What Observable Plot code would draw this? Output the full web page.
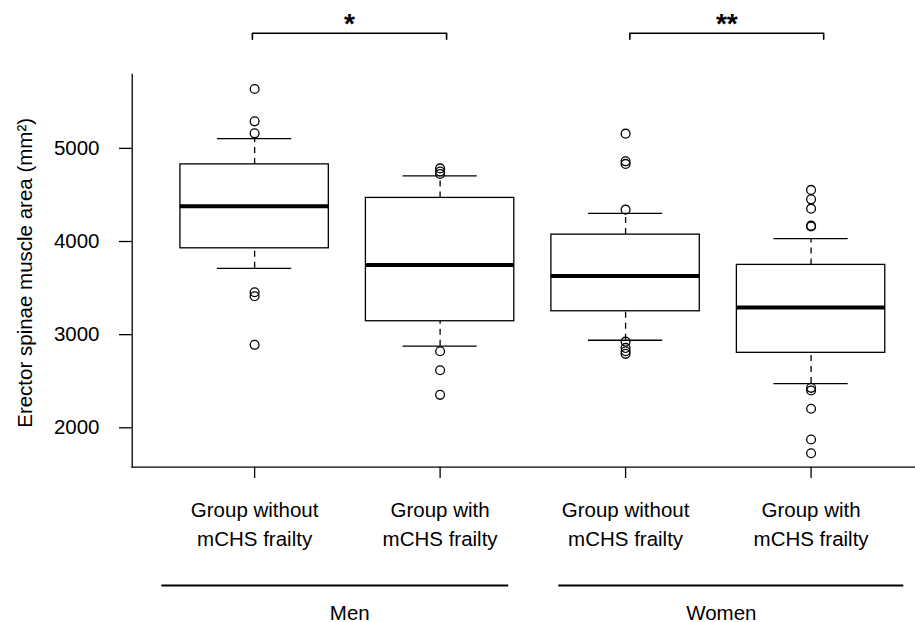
<!DOCTYPE html>
<html><head><meta charset="utf-8">
<script src="https://cdn.jsdelivr.net/npm/d3@7"></script>
<script src="https://cdn.jsdelivr.net/npm/@observablehq/plot@0.6"></script>
<style>body{margin:0;background:#fff}</style>
</head><body><div id="chart"></div>
<script>
// ---- data ----
const positions = [1, 2, 3, 4];
const categories = ["Group without\nmCHS frailty", "Group with\nmCHS frailty", "Group without\nmCHS frailty", "Group with\nmCHS frailty"];
const sexes = ["Men", "Women"];
const sexCenters = [1.513, 3.516];
const sexSpanStart = [0.5, 2.64];
const sexSpanEnd = [2.37, 4.5];
const whiskerLow = [3712, 2876, 2940, 2475];
const q1 = [3927, 3144, 3251, 2805];
const median = [4378, 3748, 3630, 3291];
const q3 = [4828, 4468, 4074, 3749];
const whiskerHigh = [5104, 4705, 4303, 4031];
const outliers = [
  [5637, 5290, 5161, 3455, 3412, 2891],
  [4785, 4752, 4725, 2822, 2618, 2354],
  [5158, 4861, 4833, 4342, 2925, 2858, 2822, 2794],
  [4554, 4453, 4353, 4170, 4162, 2429, 2400, 2204, 1874, 1727]
];
const compStart = [0.988, 3.023];
const compEnd = [2.035, 4.068];
const compLabels = ["*", "**"];
const bracketLevel = 6236;
const bracketDrop = 6171;
const yTicks = [2000, 3000, 4000, 5000];
const yLabel = "Erector spinae muscle area (mm²)";

// ---- tables built from the arrays ----
const boxes = positions.map((p, i) => ({
  p, lo: whiskerLow[i], q1: q1[i], med: median[i], q3: q3[i], hi: whiskerHigh[i], label: categories[i]
}));
const points = outliers.flatMap((vals, i) => vals.map(v => ({p: positions[i], v})));
const sexRows = sexes.map((s, i) => ({s, c: sexCenters[i], a: sexSpanStart[i], b: sexSpanEnd[i]}));
const brackets = compLabels.flatMap((lab, i) => [
  {k: i, x: compStart[i], y: bracketDrop},
  {k: i, x: compStart[i], y: bracketLevel},
  {k: i, x: compEnd[i], y: bracketLevel},
  {k: i, x: compEnd[i], y: bracketDrop}
]);
const compRows = compLabels.map((lab, i) => ({lab, c: (compStart[i] + compEnd[i]) / 2}));

const boxHalf = 0.4, stapleHalf = 0.2;
const sw = 1.3;

const chart = Plot.plot({
  width: 915,
  height: 622,
  marginLeft: 131.7,
  marginRight: 0,
  marginTop: 74,
  marginBottom: 155.3,
  style: {fontFamily: "'Liberation Sans', Arial, Helvetica, sans-serif", fontSize: "20.5px", background: "#fff", color: "#000"},
  x: {domain: [0.34, 4.563], axis: null},
  y: {domain: [1577, 5793], axis: null},
  marks: [
    Plot.frame({anchor: "left", strokeWidth: sw}),
    Plot.frame({anchor: "bottom", strokeWidth: sw}),
    Plot.axisY({ticks: yTicks, tickSize: 12.7, tickPadding: 20, tickFormat: d => String(d), fontSize: 20.5, strokeWidth: sw}),
    Plot.axisX({ticks: positions, tickSize: 11.3, tickFormat: () => "", strokeWidth: sw}),
    Plot.text(boxes, {x: "p", text: "label", frameAnchor: "bottom", dy: 79, lineAnchor: "bottom", lineHeight: 1.415, fontSize: 20.5, fill: "#000"}),
    Plot.text([yLabel], {text: d => d, frameAnchor: "left", textAnchor: "middle", dx: -106.6, dy: 2, rotate: -90, fontSize: 20.5, fill: "#000"}),
    // whiskers
    Plot.ruleX(boxes, {x: "p", y1: "q3", y2: "hi", stroke: "#000", strokeWidth: sw, strokeDasharray: "6,5"}),
    Plot.ruleX(boxes, {x: "p", y1: "lo", y2: "q1", stroke: "#000", strokeWidth: sw, strokeDasharray: "6,5"}),
    Plot.ruleY(boxes, {y: "hi", x1: d => d.p - stapleHalf, x2: d => d.p + stapleHalf, stroke: "#000", strokeWidth: sw}),
    Plot.ruleY(boxes, {y: "lo", x1: d => d.p - stapleHalf, x2: d => d.p + stapleHalf, stroke: "#000", strokeWidth: sw}),
    // boxes
    Plot.rect(boxes, {x1: d => d.p - boxHalf, x2: d => d.p + boxHalf, y1: "q1", y2: "q3", fill: "#fff", stroke: "#000", strokeWidth: sw}),
    Plot.ruleY(boxes, {y: "med", x1: d => d.p - boxHalf, x2: d => d.p + boxHalf, stroke: "#000", strokeWidth: 4}),
    // outliers
    Plot.dot(points, {x: "p", y: "v", r: 4.4, stroke: "#000", fill: "none", strokeWidth: sw}),
    // significance brackets
    Plot.line(brackets, {x: "x", y: "y", z: "k", stroke: "#000", strokeWidth: 1.6}),
    Plot.text(compRows, {x: "c", y: bracketLevel, text: "lab", lineAnchor: "bottom", dy: 0, fontSize: 28, fontWeight: "bold", fill: "#000"}),
    // sex group lines and labels
    Plot.ruleY(sexRows, {y: 1577, x1: "a", x2: "b", dy: 118.3, stroke: "#000", strokeWidth: 2}),
    Plot.text(sexRows, {x: "c", text: "s", frameAnchor: "bottom", dy: 152.3, lineAnchor: "bottom", fontSize: 20.5, fill: "#000"})
  ]
});
document.getElementById("chart").appendChild(chart);
</script>
</body></html>
